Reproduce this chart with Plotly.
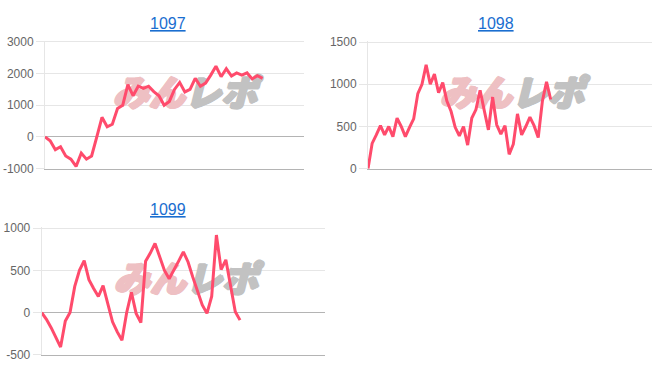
import plotly.graph_objects as go

W, H = 652, 382

# ---------------- data ----------------
titles = ["1097", "1098", "1099"]

s1097 = [0, -120, -400, -310, -600, -700, -930, -510, -700, -600, 0, 620, 320, 400,
         900, 1000, 1650, 1300, 1600, 1530, 1600, 1430, 1300, 1000, 1120, 1500, 1720,
         1420, 1500, 1850, 1600, 1700, 1950, 2230, 1900, 2150, 1920, 2020, 1950, 2020,
         1830, 1930, 1850]

s1098 = [0, 300, 400, 510, 400, 500, 380, 600, 500, 380, 490, 590, 890, 1000, 1230,
         1000, 1120, 900, 1020, 800, 680, 490, 390, 500, 280, 600, 700, 930, 690, 460,
         850, 520, 410, 510, 170, 290, 650, 400, 500, 610, 510, 370, 800, 1030, 820]

s1099 = [0, -80, -180, -300, -410, -100, 0, 310, 500, 615, 390, 285, 190, 320, 110,
         -110, -230, -330, 0, 240, -10, -120, 610, 705, 820, 665, 500, 400, 500, 610,
         720, 600, 420, 260, 90, -10, 190, 920, 510, 625, 320, 10, -90]

yticks_1097 = [-1000, 0, 1000, 2000, 3000]
yticks_1098 = [0, 500, 1000, 1500]
yticks_1099 = [-500, 0, 500, 1000]

# ---------------- styling / layout config ----------------
LINE = "#ff4b6c"
GRID = "#e6e6e6"
DARK = "#b4b4b4"
TICKC = "#666666"
TITLEC = "#1a6ed0"
FONT = "Liberation Sans, Arial, sans-serif"
WM_PINK = "#eec0c3"
WM_GRAY = "#c2c2c2"


def thick(col):
    return (f"1px 0px 0px {col}, -1px 0px 0px {col}, 0px 1px 0px {col}, "
            f"0px -1px 0px {col}, 2px 0px 0px {col}, 1px 1px 0px {col}")


# pixel boxes (left, right, top, bottom), visible x-slots, title centre, watermark split point
panels = [
    dict(data=s1097, ticks=yticks_1097, title=titles[0], box=(45, 304, 38, 169), slots=50,
         tpos=(168, 19.5), wm=(184.5, 95)),
    dict(data=s1098, ticks=yticks_1098, title=titles[1], box=(368, 652, 38.3, 169), slots=68.4,
         tpos=(495.5, 19.5), wm=(511.5, 95)),
    dict(data=s1099, ticks=yticks_1099, title=titles[2], box=(41.7, 325, 230.5, 361), slots=60,
         tpos=(168, 211.5), wm=(185.5, 287)),
]

EPS = 0.01  # small headroom so the top grid line is drawn

fig = go.Figure()
annotations = []

for i, p in enumerate(panels, start=1):
    l, r, t, b = p["box"]
    ymin, ymax = min(p["ticks"]), max(p["ticks"])
    span = ymax - ymin
    t_ext = t - EPS * (b - t)
    xs = "x" if i == 1 else f"x{i}"
    ys = "y" if i == 1 else f"y{i}"
    xk = "xaxis" if i == 1 else f"xaxis{i}"
    yk = "yaxis" if i == 1 else f"yaxis{i}"

    # watermark (drawn first so the line is above it)
    wx = (p["wm"][0] - l) / (r - l) * p["slots"]
    wy = ymax - (p["wm"][1] - t) / (b - t) * span
    for txt, col, pos in (("みん", WM_PINK, "middle left"), ("レポ", WM_GRAY, "middle right")):
        fig.add_trace(go.Scatter(
            x=[wx], y=[wy], mode="text", text=[txt], textposition=pos,
            textfont=dict(family="Noto Sans CJK JP", size=36, color=col,
                          weight=900, style="italic", shadow=thick(col)),
            hoverinfo="skip", showlegend=False, xaxis=xs, yaxis=ys, cliponaxis=False))

    fig.add_trace(go.Scatter(
        x=list(range(len(p["data"]))), y=p["data"], mode="lines",
        line=dict(color=LINE, width=3), showlegend=False, xaxis=xs, yaxis=ys,
        hoverinfo="skip"))

    fig.update_layout(**{
        xk: dict(domain=[l / W, min(r / W, 1.0)], range=[0, p["slots"]], showgrid=False,
                 showticklabels=False, zeroline=False, showline=True, linecolor=DARK,
                 linewidth=1, ticks="", anchor=ys, fixedrange=True),
        yk: dict(domain=[1 - b / H, 1 - t_ext / H], range=[ymin, ymax + EPS * span],
                 tickvals=p["ticks"], ticktext=[str(v) for v in p["ticks"]],
                 showgrid=True, gridcolor=GRID, gridwidth=1, zeroline=(ymin < 0),
                 zerolinecolor=DARK, zerolinewidth=1, showline=True, linecolor=GRID,
                 linewidth=1, ticks="outside", ticklen=8, tickcolor=GRID,
                 tickfont=dict(family=FONT, size=12, color=TICKC),
                 anchor=xs, fixedrange=True),
    })

    annotations.append(dict(
        text=f"<u>{p['title']}</u>", xref="paper", yref="paper",
        x=p["tpos"][0] / W, y=1 - p["tpos"][1] / H, xanchor="center", yanchor="middle",
        showarrow=False, font=dict(family=FONT, size=16, color=TITLEC)))

fig.update_layout(
    width=W, height=H, margin=dict(l=0, r=0, t=0, b=0),
    paper_bgcolor="white", plot_bgcolor="white",
    annotations=annotations, showlegend=False,
)

fig.write_html("out.html", config={"displayModeBar": False})
